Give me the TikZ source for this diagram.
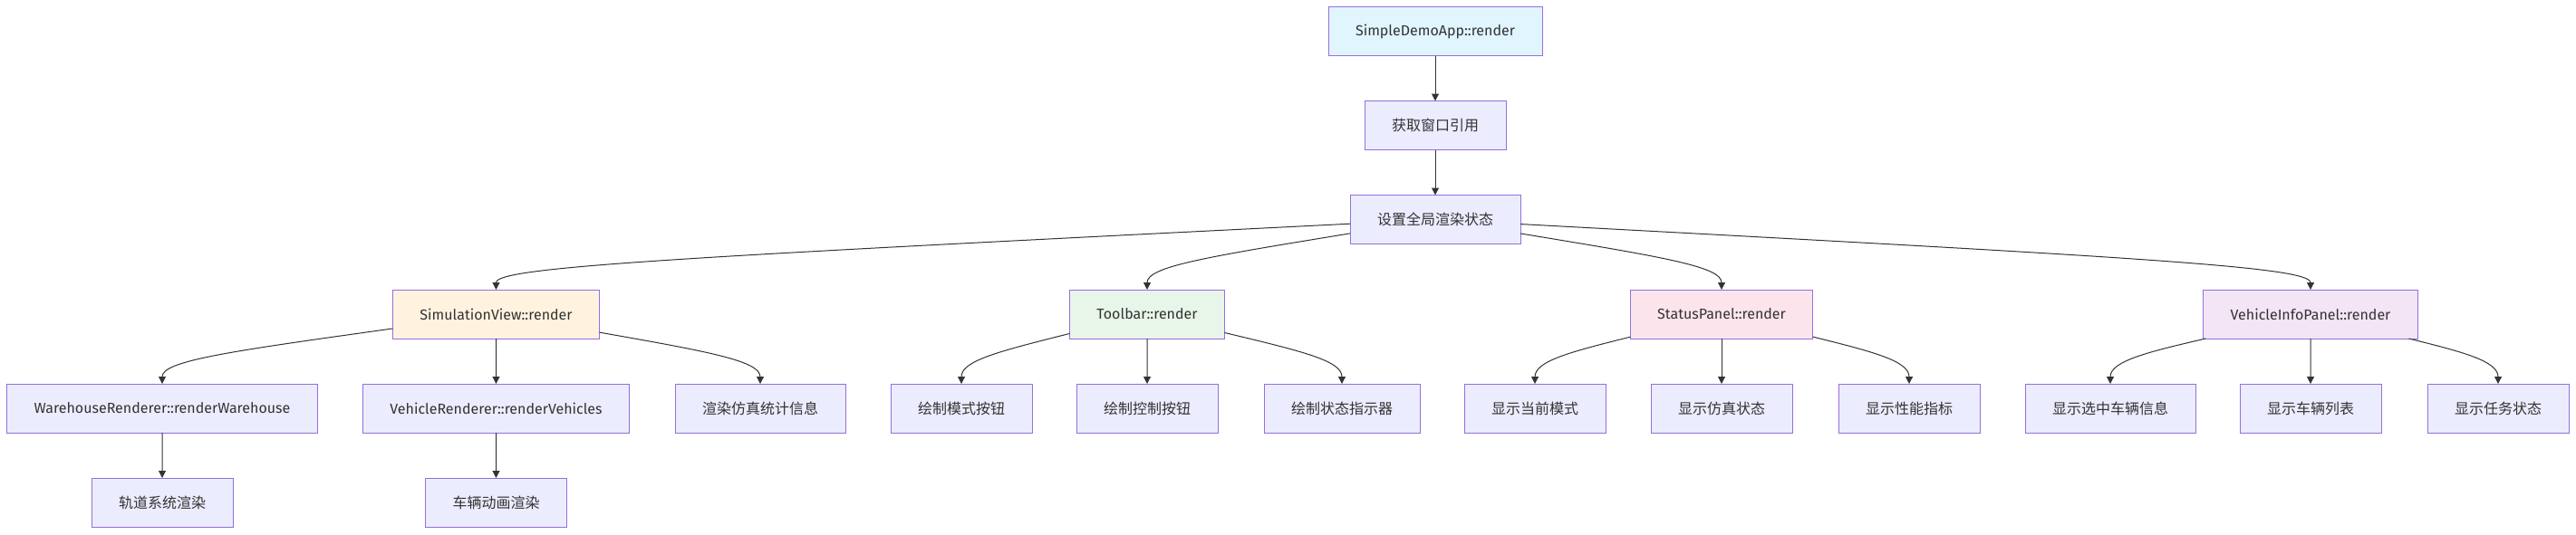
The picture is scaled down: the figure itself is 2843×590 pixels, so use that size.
\documentclass[tikz,border=0pt]{standalone}
\usepackage{fontspec}
\setmainfont{Fira Sans}
\newfontfamily\cjk{Noto Sans CJK SC}
\usepackage{tikz}
\usetikzlibrary{arrows.meta, calc, positioning}

\definecolor{boxline}{HTML}{9370DB}
\definecolor{boxfill}{HTML}{ECECFF}
\definecolor{appfill}{HTML}{E1F5FE}
\definecolor{simfill}{HTML}{FFF3E0}
\definecolor{toolfill}{HTML}{E8F5E9}
\definecolor{statusfill}{HTML}{FCE4EC}
\definecolor{infofill}{HTML}{F3E5F5}
\definecolor{linegrey}{HTML}{333333}

\tikzset{
  box/.style={draw=boxline, fill=boxfill, line width=0.75pt, text=linegrey,
    minimum height=40.5pt, inner xsep=22.5pt, inner ysep=0pt, outer sep=0pt,
    font=\fontsize{12pt}{14pt}\selectfont},
  flowline/.style={draw=linegrey, line width=0.75pt,
    -{Triangle[length=6pt,width=6pt]}},
}

\newcommand{\zh}[1]{{\cjk #1}}
\newcommand{\flow}[2]{%
  \draw[flowline] let \p1=(#1.center), \p2=(#2.north) in
    (#1) .. controls ($(\p1)!0.8!(\x2,\y2+19.1pt)$) and (\x2,\y2+19.1pt) .. (#2.north);}

\begin{document}
\begin{tikzpicture}[x=0.75pt,y=-0.75pt,node distance=37.5pt]

  \useasboundingbox (0,0) rectangle (2843,590);

  \node[box, fill=appfill] (app) at (1584,34.5) {SimpleDemoApp::render};
  \node[box, below=of app] (get_win) {\zh{获取窗口引用}};
  \node[box, below=of get_win] (set_state) {\zh{设置全局渲染状态}};

  \node[box, fill=simfill] (sim_view) at (547.5,347) {SimulationView::render};
  \node[box, fill=toolfill] (tool_bar) at (1266,347) {Toolbar::render};
  \node[box, fill=statusfill] (status_panel) at (1900,347) {StatusPanel::render};
  \node[box, fill=infofill] (info_panel) at (2550,347) {VehicleInfoPanel::render};

  \node[box] (ware_rend) at (179,451) {WarehouseRenderer::renderWarehouse};
  \node[box, below=of sim_view] (veh_rend) {VehicleRenderer::renderVehicles};
  \node[box] (sim_stats) at (839,451) {\zh{渲染仿真统计信息}};
  \node[box, below=of ware_rend] (track_draw) {\zh{轨道系统渲染}};
  \node[box, below=of veh_rend] (veh_anim) {\zh{车辆动画渲染}};

  \node[box] (mode_btn) at (1061,451) {\zh{绘制模式按钮}};
  \node[box, below=of tool_bar] (ctrl_btn) {\zh{绘制控制按钮}};
  \node[box] (state_ind) at (1481,451) {\zh{绘制状态指示器}};

  \node[box] (cur_mode) at (1694,451) {\zh{显示当前模式}};
  \node[box, below=of status_panel] (sim_state) {\zh{显示仿真状态}};
  \node[box] (perf_info) at (2107,451) {\zh{显示性能指标}};

  \node[box] (sel_veh) at (2329,451) {\zh{显示选中车辆信息}};
  \node[box, below=of info_panel] (veh_list) {\zh{显示车辆列表}};
  \node[box] (task_state) at (2757,451) {\zh{显示任务状态}};

  \flow{app}{get_win};
  \flow{get_win}{set_state};
  \flow{set_state}{sim_view};
  \flow{set_state}{tool_bar};
  \flow{set_state}{status_panel};
  \flow{set_state}{info_panel};
  \flow{sim_view}{ware_rend};
  \flow{sim_view}{veh_rend};
  \flow{sim_view}{sim_stats};
  \flow{ware_rend}{track_draw};
  \flow{veh_rend}{veh_anim};
  \flow{tool_bar}{mode_btn};
  \flow{tool_bar}{ctrl_btn};
  \flow{tool_bar}{state_ind};
  \flow{status_panel}{cur_mode};
  \flow{status_panel}{sim_state};
  \flow{status_panel}{perf_info};
  \flow{info_panel}{sel_veh};
  \flow{info_panel}{veh_list};
  \flow{info_panel}{task_state};

\end{tikzpicture}
\end{document}
